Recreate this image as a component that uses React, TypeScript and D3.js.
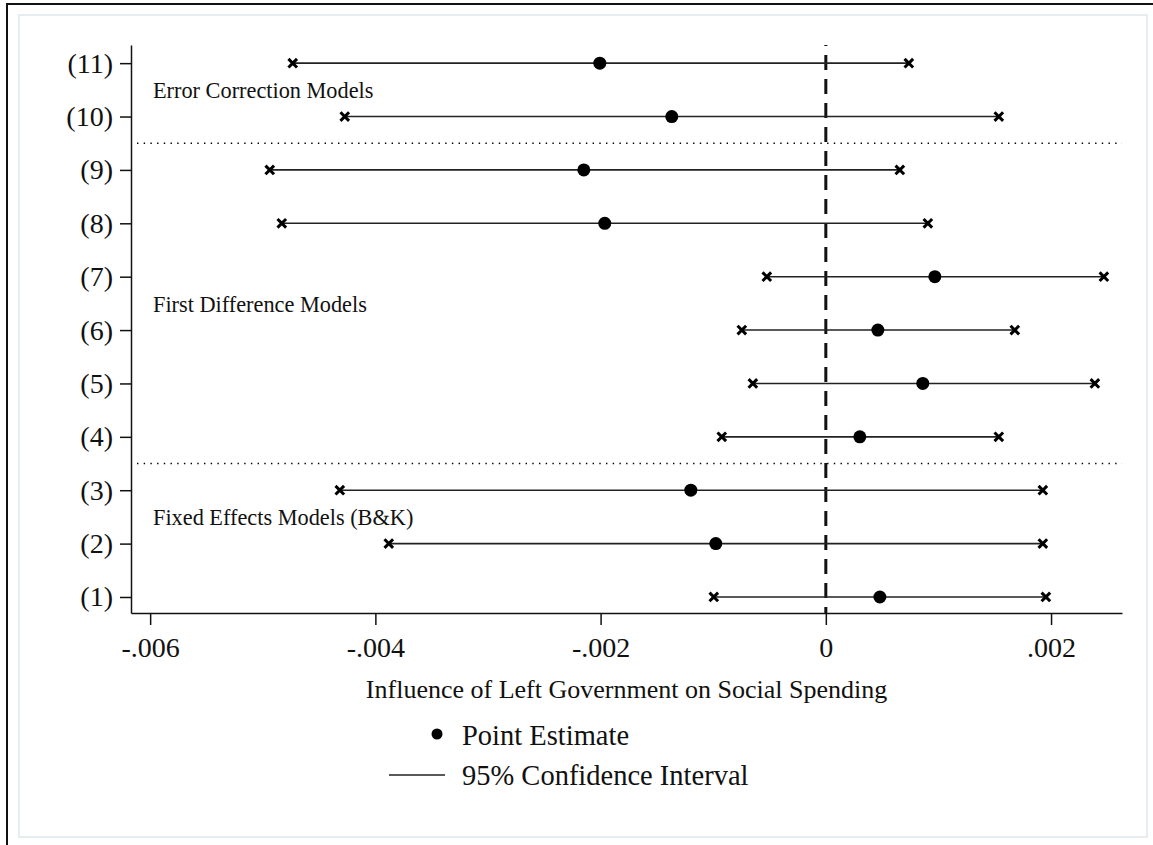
import React, { useRef, useEffect } from 'react';
import * as d3 from 'd3';

// model labels, bottom to top
const models = ['(1)', '(2)', '(3)', '(4)', '(5)', '(6)', '(7)', '(8)', '(9)', '(10)', '(11)'];
const lower = [-0.000995, -0.003881, -0.004316, -0.000924, -0.000648, -0.000746, -0.000524, -0.004831, -0.004938, -0.004272, -0.004734];
const estimate = [0.00048, -0.000977, -0.001199, 0.000302, 0.000861, 0.000462, 0.000968, -0.001963, -0.002149, -0.001368, -0.002007];
const upper = [0.001954, 0.001927, 0.001927, 0.001536, 0.002389, 0.001678, 0.002469, 0.000906, 0.000657, 0.001536, 0.000737];

const xTicks = [-0.006, -0.004, -0.002, 0, 0.002];
const xTickLabels = ['-.006', '-.004', '-.002', '0', '.002'];

const groupNames = ['Fixed Effects Models (B&K)', 'First Difference Models', 'Error Correction Models'];
const groupPos = [2.5, 6.5, 10.5];
const separators = [3.5, 9.5];

const legendLabels = ['Point Estimate', '95% Confidence Interval'];

const FONT = '"Liberation Serif", "Times New Roman", serif';

export default function App() {
    const ref = useRef<SVGSVGElement>(null);

    useEffect(() => {
        const width = 1153;
        const height = 845;
        const left = 131, right = 1122, top = 45, bottom = 613;

        const svg = d3.select(ref.current);
        svg.selectAll('*').remove();

        // frame
        svg.append('rect').attr('width', width).attr('height', height).attr('fill', 'white');
        svg.append('rect')
            .attr('x', 19).attr('y', 15).attr('width', 1128).attr('height', 822)
            .attr('fill', 'none').attr('stroke', '#e6edf1').attr('stroke-width', 2);
        svg.append('path')
            .attr('d', 'M7,845 V4 H1153')
            .attr('fill', 'none').attr('stroke', '#111').attr('stroke-width', 2);

        const x = d3.scaleLinear().domain([-0.00617, 0.00263]).range([left, right]);
        const y = d3.scaleLinear().domain([0.7, 11.34]).range([bottom, top]);

        // axes
        const xAxis = svg.append('g')
            .attr('transform', `translate(0, ${bottom})`)
            .call(d3.axisBottom(x)
                .tickValues(xTicks)
                .tickFormat((d, i) => xTickLabels[i])
                .tickSize(12)
                .tickSizeOuter(0)
                .tickPadding(12));
        xAxis.select('.domain').attr('stroke', '#111').attr('stroke-width', 1.5);
        xAxis.selectAll('.tick line').attr('stroke', '#111').attr('stroke-width', 1.5);
        xAxis.selectAll('.tick text')
            .style('font-size', '28px').style('font-family', FONT).attr('fill', '#111');

        const yAxis = svg.append('g')
            .attr('transform', `translate(${left}, 0)`)
            .call(d3.axisLeft(y)
                .tickValues(d3.range(1, 12))
                .tickFormat((d, i) => models[i])
                .tickSize(11)
                .tickSizeOuter(0)
                .tickPadding(7));
        yAxis.select('.domain').attr('stroke', '#111').attr('stroke-width', 1.5);
        yAxis.selectAll('.tick line').attr('stroke', '#111').attr('stroke-width', 1.5);
        yAxis.selectAll('.tick text')
            .style('font-size', '28px').style('font-family', FONT).attr('fill', '#111');

        // group separators
        svg.selectAll('line.sep')
            .data(separators)
            .enter()
            .append('line')
            .attr('class', 'sep')
            .attr('x1', left + 6).attr('x2', right)
            .attr('y1', d => y(d)).attr('y2', d => y(d))
            .attr('stroke', '#000').attr('stroke-width', 1.6)
            .attr('stroke-dasharray', '1.4 5.3');

        // zero line
        svg.append('line')
            .attr('x1', x(0)).attr('x2', x(0))
            .attr('y1', top).attr('y2', bottom)
            .attr('stroke', '#111').attr('stroke-width', 3)
            .attr('stroke-dasharray', '15 9')
            .attr('stroke-dashoffset', 14);

        // group labels
        svg.selectAll('text.group')
            .data(groupNames)
            .enter()
            .append('text')
            .attr('class', 'group')
            .attr('x', 153)
            .attr('y', (d, i) => y(groupPos[i]))
            .attr('dy', '0.38em')
            .text(d => d)
            .style('font-size', '22.3px')
            .style('font-family', FONT)
            .attr('fill', '#111');

        // confidence intervals
        svg.selectAll('line.ci')
            .data(models)
            .enter()
            .append('line')
            .attr('class', 'ci')
            .attr('x1', (d, i) => x(lower[i]))
            .attr('x2', (d, i) => x(upper[i]))
            .attr('y1', (d, i) => y(i + 1))
            .attr('y2', (d, i) => y(i + 1))
            .attr('stroke', '#222').attr('stroke-width', 1.6);

        const cross = d3.symbol().type(d3.symbolX).size(50);
        const ends = models.flatMap((d, i) => [
            { v: lower[i], row: i + 1 },
            { v: upper[i], row: i + 1 },
        ]);
        svg.selectAll('path.end')
            .data(ends)
            .enter()
            .append('path')
            .attr('class', 'end')
            .attr('d', cross)
            .attr('transform', d => `translate(${x(d.v)}, ${y(d.row)})`)
            .attr('fill', 'none').attr('stroke', '#000').attr('stroke-width', 3);

        // point estimates
        svg.selectAll('circle.est')
            .data(estimate)
            .enter()
            .append('circle')
            .attr('class', 'est')
            .attr('cx', d => x(d))
            .attr('cy', (d, i) => y(i + 1))
            .attr('r', 6.5)
            .attr('fill', '#000');

        // x title
        svg.append('text')
            .attr('x', (left + right) / 2)
            .attr('y', 698)
            .attr('text-anchor', 'middle')
            .text('Influence of Left Government on Social Spending')
            .style('font-size', '26px')
            .style('font-family', FONT)
            .attr('fill', '#111');

        // legend
        const legend = svg.append('g');
        legend.append('circle').attr('cx', 437).attr('cy', 734).attr('r', 5.5).attr('fill', '#000');
        legend.append('line')
            .attr('x1', 389).attr('x2', 445).attr('y1', 775).attr('y2', 775)
            .attr('stroke', '#222').attr('stroke-width', 1.6);
        legend.selectAll('text')
            .data(legendLabels)
            .enter()
            .append('text')
            .attr('x', 462)
            .attr('y', (d, i) => 745 + i * 40)
            .text(d => d)
            .style('font-size', '28.5px')
            .style('font-family', FONT)
            .attr('fill', '#111');
    }, []);

    return (
        <div style={{ position: 'absolute', left: 0, top: 0 }}>
            <svg ref={ref} width={1153} height={845} style={{ display: 'block' }} />
        </div>
    );
}
